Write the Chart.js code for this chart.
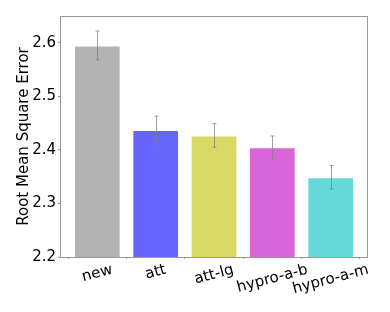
<!DOCTYPE html>
<html lang="en">
<head>
    <meta charset="UTF-8">
    <title>RMSE</title>
    <script src="https://cdn.jsdelivr.net/npm/chart.js"></script>
    <style>
        body { margin: 0; background: #fff; }
        #wrap { width: 390px; height: 312px; }
    </style>
</head>
<body>
    <div id="wrap"><canvas id="barChart" width="390" height="312"></canvas></div>

    <script>
        // data
        const models = ["new", "att", "att-lg", "hypro-a-b", "hypro-a-m"];
        const rmse = [2.595, 2.437, 2.427, 2.405, 2.349];
        const rmseErr = [0.027, 0.026, 0.022, 0.021, 0.022];
        const yTicks = [2.2, 2.3, 2.4, 2.5, 2.6];

        const barColors = ["#b3b3b3", "#6666ff", "#d9d966", "#d966d9", "#66d9d9"];
        const FONT = "'DejaVu Sans', sans-serif";

        // error bars + rotated category labels + frame
        const extras = {
            id: "extras",
            afterDatasetsDraw(chart) {
                const { ctx, chartArea: a, scales: { x, y } } = chart;
                ctx.save();
                ctx.strokeStyle = "rgba(128,128,128,0.75)";
                ctx.lineWidth = 1;
                rmse.forEach((v, i) => {
                    const px = Math.round(x.getPixelForValue(i)) + 0.5;
                    const top = y.getPixelForValue(v + rmseErr[i]);
                    const bot = y.getPixelForValue(v - rmseErr[i]);
                    ctx.beginPath();
                    ctx.moveTo(px, top); ctx.lineTo(px, bot);
                    ctx.moveTo(px - 2, top); ctx.lineTo(px + 2, top);
                    ctx.moveTo(px - 2, bot); ctx.lineTo(px + 2, bot);
                    ctx.stroke();
                });

                // frame
                ctx.strokeStyle = "#999";
                ctx.strokeRect(a.left + 0.5, a.top + 0.5, a.right - a.left - 1, a.bottom - a.top);

                // x labels, rotated 15 deg, centred under the tick
                const ang = 15 * Math.PI / 180;
                ctx.font = "15px " + FONT;
                ctx.fillStyle = "#000";
                ctx.textAlign = "center";
                ctx.textBaseline = "middle";
                models.forEach((m, i) => {
                    const w = ctx.measureText(m).width;
                    const h = 17.5;
                    const boxH = w * Math.sin(ang) + h * Math.cos(ang);
                    const cx = x.getPixelForValue(i);
                    const cy = a.bottom + 4 + boxH / 2;
                    ctx.save();
                    ctx.translate(cx, cy);
                    ctx.rotate(-ang);
                    ctx.fillText(m, 0, 0);
                    ctx.restore();
                });
                ctx.restore();
            }
        };

        new Chart(document.getElementById("barChart").getContext("2d"), {
            type: "bar",
            data: {
                datasets: [{
                    data: rmse.map((v, i) => ({ x: i, y: v })),
                    backgroundColor: barColors,
                    borderColor: "rgba(255,255,255,0.5)",
                    borderWidth: 1,
                    categoryPercentage: 1,
                    barPercentage: 0.8
                }]
            },
            options: {
                responsive: false,
                animation: false,
                devicePixelRatio: 1,
                layout: { padding: { left: 0, top: 16, right: 22, bottom: 0 } },
                plugins: { legend: { display: false }, tooltip: { enabled: false } },
                scales: {
                    x: {
                        type: "linear",
                        offset: false,
                        min: -0.64,
                        max: 4.64,
                        afterBuildTicks: s => { s.ticks = models.map((m, i) => ({ value: i })); },
                        afterFit: s => { s.height = 55; },
                        ticks: { display: false },
                        grid: { drawOnChartArea: false, tickLength: 2, color: "#999" },
                        border: { display: false }
                    },
                    y: {
                        min: 2.2,
                        max: 2.65,
                        afterBuildTicks: s => { s.ticks = yTicks.map(v => ({ value: v })); },
                        afterFit: s => { s.width = 60; },
                        ticks: {
                            color: "#000",
                            padding: 2,
                            font: { family: FONT, size: 15 },
                            callback: v => v.toFixed(1)
                        },
                        grid: { drawOnChartArea: false, tickLength: 2, color: "#999" },
                        border: { display: false },
                        title: {
                            display: true,
                            text: "Root Mean Square Error",
                            color: "#000",
                            font: { family: FONT, size: 15 },
                            padding: { top: 15, bottom: 0 }
                        }
                    }
                }
            },
            plugins: [extras]
        });
    </script>
</body>
</html>
